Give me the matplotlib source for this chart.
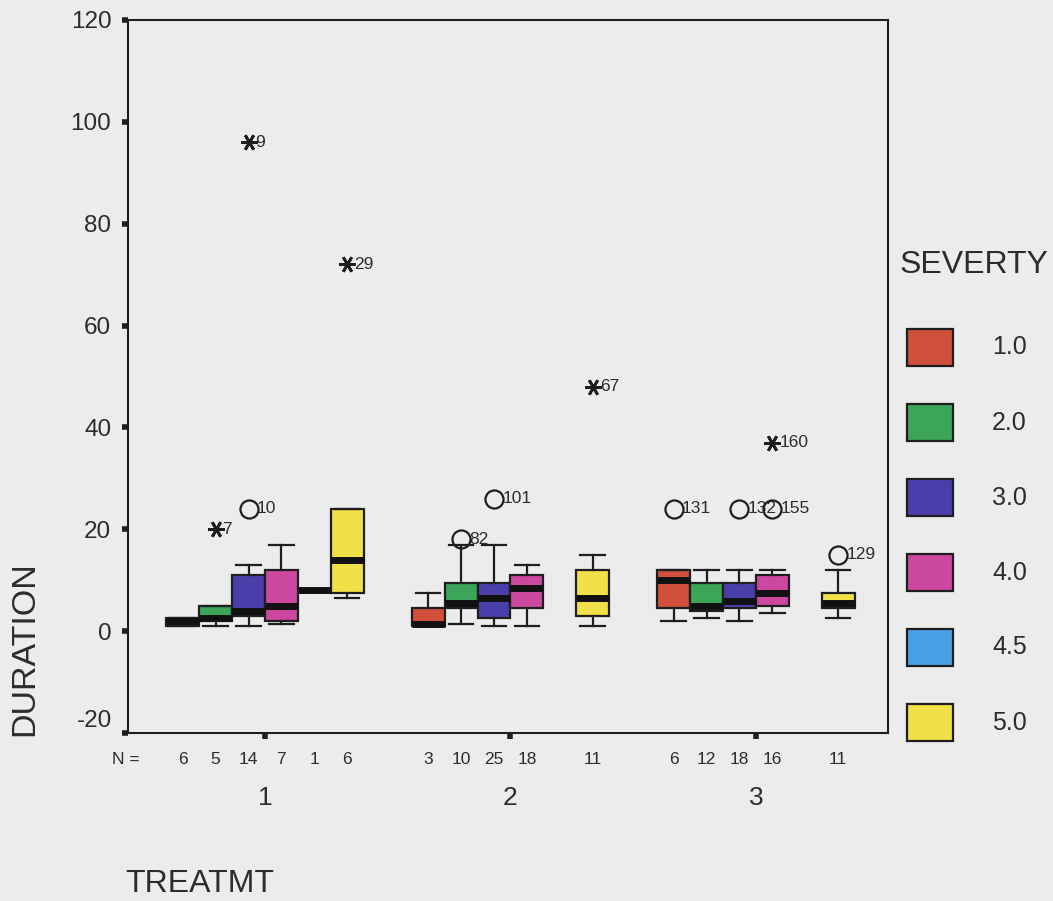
import matplotlib
matplotlib.use("Agg")
import matplotlib.pyplot as plt
from matplotlib.patches import Rectangle

plt.rcParams['font.family'] = ['Liberation Sans', 'DejaVu Sans']

# ---- data ----
groups = [1, 2, 3]
group_labels = ['1', '2', '3']
y_ticks = [-20, 0, 20, 40, 60, 80, 100, 120]
severity_labels = ['1.0', '2.0', '3.0', '4.0', '4.5', '5.0']
severity_colors = ['#D0503C', '#3CA55A', '#4A3FAA', '#CC48A0', '#4AA0E6', '#F2E048']

# per box: group, severity index, N, whislo, q1, med, q3, whishi
box_group = [1, 1, 1, 1, 1, 1, 2, 2, 2, 2, 2, 3, 3, 3, 3, 3]
box_sev = [0, 1, 2, 3, 4, 5, 0, 1, 2, 3, 5, 0, 1, 2, 3, 5]
box_n = [6, 5, 14, 7, 1, 6, 3, 10, 25, 18, 11, 6, 12, 18, 16, 11]
box_lo = [1, 1, 1, 1.5, 8, 6.5, 1, 1.5, 1, 1, 1, 2, 2.5, 2, 3.5, 2.5]
box_q1 = [1, 2, 3, 2, 8, 7.5, 1, 4.5, 2.5, 4.5, 3, 4.5, 4, 4.5, 5, 4.5]
box_med = [2, 2.5, 4, 5, 8, 14, 1.5, 5.5, 6.5, 8.5, 6.5, 10, 5, 6, 7.5, 5.5]
box_q3 = [2.5, 5, 11, 12, 8, 24, 4.5, 9.5, 9.5, 11, 12, 12, 9.5, 9.5, 11, 7.5]
box_hi = [2.5, 5, 13, 17, 8, 24, 7.5, 17, 17, 13, 15, 12, 12, 12, 12, 12]

# outliers: group, severity index, value, case label, extreme?
out_group = [1, 1, 1, 1, 2, 2, 2, 3, 3, 3, 3, 3]
out_sev = [1, 2, 2, 5, 1, 2, 5, 0, 2, 3, 3, 5]
out_val = [20, 24, 96, 72, 18, 26, 48, 24, 24, 24, 37, 15]
out_case = ['7', '10', '9', '29', '82', '101', '67', '131', '132', '155', '160', '129']
out_extreme = [True, False, True, True, False, False, True, False, False, False, True, False]

# ---- layout ----
W, H = 1053, 901
fig = plt.figure(figsize=(W / 100, H / 100), dpi=100)
bg = '#ECECEC'
txt = '#2C2C2C'
fig.patch.set_facecolor(bg)
ax = fig.add_axes([128 / W, 1 - 733 / H, 760 / W, 713 / H])
ax.set_facecolor(bg)

slot = 0.134
bw = 0.134


def xpos(g, s):
    return g + (s - 2.5) * slot


stats = []
positions = []
for i in range(len(box_n)):
    stats.append(dict(whislo=box_lo[i], q1=box_q1[i], med=box_med[i],
                      q3=box_q3[i], whishi=box_hi[i], fliers=[]))
    positions.append(xpos(box_group[i], box_sev[i]))

dark = '#1E1E1E'
bp = ax.bxp(stats, positions=positions, widths=bw, patch_artist=True,
            showfliers=False, manage_ticks=False,
            capwidths=0.1,
            boxprops=dict(edgecolor=dark, linewidth=1.6),
            medianprops=dict(color='#111111', linewidth=5, solid_capstyle='butt'),
            whiskerprops=dict(color=dark, linewidth=1.6),
            capprops=dict(color=dark, linewidth=1.6))
for patch, s in zip(bp['boxes'], box_sev):
    patch.set_facecolor(severity_colors[s])

for g, s, v, c, ext in zip(out_group, out_sev, out_val, out_case, out_extreme):
    x = xpos(g, s)
    if ext:
        ax.plot(x, v, marker=(6, 2, 90), markersize=12, color=dark,
                markeredgewidth=2.0, linestyle='none', zorder=5)
        off = 5
    else:
        ax.plot(x, v, marker='o', markersize=13, markerfacecolor='none',
                markeredgecolor=dark, markeredgewidth=1.6, linestyle='none', zorder=5)
        off = 6
    ax.annotate(c, (x, v), xytext=(off, 0), textcoords='offset points',
                ha='left', va='center', fontsize=12.5, color=txt)

ax.set_xlim(0.442, 3.538)
ax.set_ylim(-20, 120)
ax.set_yticks(y_ticks)
# the lowest label sits a little above its tick, as in the original
ax.set_yticklabels(['' if v == y_ticks[0] else str(v) for v in y_ticks],
                   fontsize=17.5, color=txt)
fig.text(112 / W, 1 - 721 / H, str(y_ticks[0]), ha='right', va='center',
         fontsize=17.5, color=txt)
ax.set_xticks(groups)
ax.set_xticklabels(group_labels, fontsize=19, color=txt)
ax.tick_params(axis='x', direction='out', length=4, width=4, pad=34, color=dark)
ax.tick_params(axis='y', direction='out', length=4, width=4, pad=8, color=dark)
for sp in ax.spines.values():
    sp.set_linewidth(1.5)
    sp.set_color(dark)

# N labels
trans = ax.get_xaxis_transform()
fig.text(112 / W, 1 - 759 / H, 'N =', ha='left', va='center',
         fontsize=12.5, color=txt)
for i in range(len(box_n)):
    ax.text(positions[i], -26 / 713, str(box_n[i]), transform=trans,
            ha='center', va='center', fontsize=12.5, color=txt)

# axis titles
fig.text(25 / W, 1 - 649 / H, 'DURATION', rotation=90, ha='center', va='center',
         fontsize=24.5, color=txt)
fig.text(125 / W, 1 - 884 / H, 'TREATMT', ha='left', va='center',
         fontsize=23, color=txt)

# legend
fig.text(900 / W, 1 - 265 / H, 'SEVERTY', ha='left', va='center',
         fontsize=23, color=txt)
for k, (lab, col) in enumerate(zip(severity_labels, severity_colors)):
    top = 329 + 75 * k
    fig.patches.append(Rectangle((907 / W, 1 - (top + 37) / H), 46 / W, 37 / H,
                                 transform=fig.transFigure, facecolor=col,
                                 edgecolor=dark, linewidth=1.6))
    fig.text(992 / W, 1 - (top + 18.5) / H, lab, ha='left', va='center',
             fontsize=18, color=txt)

fig.savefig('out.png', dpi=100, facecolor=bg)
